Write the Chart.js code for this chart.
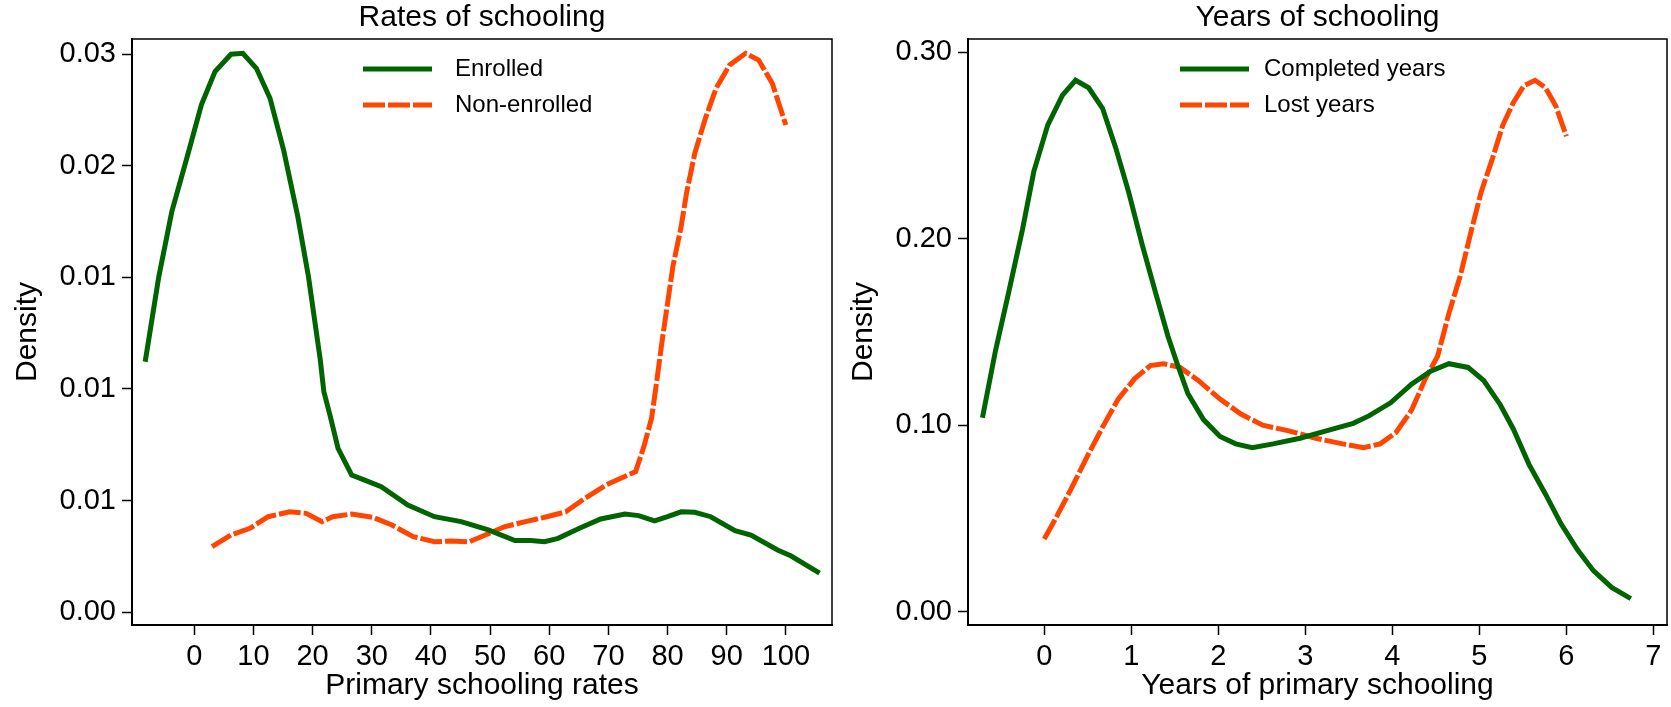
<!DOCTYPE html>
<html>
<head>
<meta charset="utf-8">
<title>Rates and years of schooling</title>
<script src="https://cdn.jsdelivr.net/npm/chart.js@4.4.0/dist/chart.umd.min.js"></script>
<style>
  body { margin: 0; background: #fff; }
  #wrap { position: relative; width: 1671px; height: 707px; }
  canvas { position: absolute; top: 0; }
  #ratesChart { left: 0; }
  #yearsChart { left: 836px; }
</style>
</head>
<body>
<div id="wrap">
  <canvas id="ratesChart" width="836" height="707"></canvas>
  <canvas id="yearsChart" width="835" height="707"></canvas>
</div>
<script>
// --- left panel: rates of schooling ---
const rateTicks = [0, 10, 20, 30, 40, 50, 60, 70, 80, 90, 100];
const rateDensityTicks = [0, 0.005, 0.01, 0.015, 0.02, 0.025];
const rateDensityLabels = ['0.00', '0.01', '0.01', '0.01', '0.02', '0.03'];

const enrolledX = [-8.3, -6.0, -3.8, -1.2, 1.2, 3.5, 6.2, 8.2, 10.5, 12.8, 15.1, 17.5, 19.3, 21.3, 21.9, 23.0, 24.3, 26.6, 28.8, 31.6,
  36.1, 40.6, 45.1, 49.7, 54.2, 56.9, 59.2, 61.5, 65.1, 68.7, 72.8, 75.1, 77.8, 80.0, 82.3, 84.6, 87.3, 91.4, 94.1, 98.6, 100.9, 105.7];
const enrolledY = [0.01122, 0.01503, 0.01794, 0.02040, 0.02272, 0.02421, 0.02499, 0.02503, 0.02436, 0.02302, 0.02070, 0.01771, 0.01503,
  0.01130, 0.00988, 0.00876, 0.00734, 0.00615, 0.00592, 0.00562, 0.00480, 0.00428, 0.00406, 0.00369, 0.00321, 0.00321, 0.00316,
  0.00331, 0.00376, 0.00418, 0.00440, 0.00433, 0.00409, 0.00428, 0.00450, 0.00448, 0.00428, 0.00365, 0.00346, 0.00279, 0.00252, 0.00175];

const nonEnrolledX = [3.0, 6.2, 9.4, 12.5, 16.1, 18.9, 21.6, 23.4, 26.6, 30.2, 33.4, 37.0, 40.6, 43.3, 46.5, 49.2, 52.4, 56.0, 59.6,
  62.8, 66.0, 69.6, 74.6, 76.0, 77.3, 78.2, 79.1, 80.9, 82.3, 83.2, 84.6, 86.4, 88.2, 90.5, 93.2, 95.4, 97.7, 100.0];
const nonEnrolledY = [0.00294, 0.00346, 0.00376, 0.00428, 0.00450, 0.00443, 0.00406, 0.00428, 0.00440, 0.00425, 0.00391, 0.00339,
  0.00316, 0.00319, 0.00316, 0.00346, 0.00383, 0.00406, 0.00428, 0.00450, 0.00510, 0.00570, 0.00630, 0.00742, 0.00869, 0.01040,
  0.01219, 0.01548, 0.01727, 0.01876, 0.02055, 0.02212, 0.02346, 0.02451, 0.02503, 0.02473, 0.02369, 0.02182];

// --- right panel: years of schooling ---
const yearTicks = [0, 1, 2, 3, 4, 5, 6, 7];
const yearDensityTicks = [0, 0.1, 0.2, 0.3];
const yearDensityLabels = ['0.00', '0.10', '0.20', '0.30'];

const completedX = [-0.71, -0.56, -0.41, -0.25, -0.12, 0.04, 0.21, 0.36, 0.51, 0.67, 0.82, 0.97, 1.13, 1.28, 1.42, 1.52, 1.65, 1.83,
  2.02, 2.20, 2.39, 2.63, 2.94, 3.24, 3.55, 3.73, 3.98, 4.22, 4.44, 4.65, 4.87, 5.05, 5.24, 5.39, 5.57, 5.76, 5.94, 6.13, 6.31, 6.52, 6.74];
const completedY = [0.104, 0.140, 0.171, 0.205, 0.236, 0.261, 0.277, 0.285, 0.281, 0.270, 0.249, 0.225, 0.196, 0.171, 0.148, 0.134,
  0.117, 0.103, 0.094, 0.090, 0.088, 0.090, 0.093, 0.097, 0.101, 0.105, 0.112, 0.122, 0.129, 0.133, 0.131, 0.124, 0.111, 0.098,
  0.079, 0.063, 0.047, 0.033, 0.022, 0.013, 0.007];

const lostX = [0.0, 0.12, 0.30, 0.48, 0.67, 0.85, 1.04, 1.22, 1.37, 1.56, 1.77, 2.02, 2.26, 2.51, 2.81, 3.12, 3.43, 3.67, 3.86, 4.04,
  4.22, 4.38, 4.52, 4.65, 4.78, 4.90, 5.02, 5.15, 5.27, 5.39, 5.51, 5.64, 5.76, 5.88, 6.00];
const lostY = [0.039, 0.049, 0.065, 0.082, 0.099, 0.114, 0.125, 0.132, 0.133, 0.131, 0.124, 0.114, 0.106, 0.100, 0.097, 0.093, 0.090,
  0.088, 0.090, 0.096, 0.108, 0.125, 0.137, 0.160, 0.180, 0.203, 0.225, 0.243, 0.261, 0.273, 0.282, 0.285, 0.281, 0.271, 0.255];

const GREEN = '#006400';
const ORANGE = '#ff4500';

Chart.defaults.font.family = '"Liberation Sans", Arial, sans-serif';
Chart.defaults.color = '#000';

function points(xs, ys) {
    return xs.map(function(x, i) { return { x: x, y: ys[i] }; });
}

// thin frame on top and right of the plot region
const plotFrame = {
    id: 'plotFrame',
    afterDraw: function(chart) {
        const a = chart.chartArea, ctx = chart.ctx;
        ctx.save();
        ctx.strokeStyle = '#000';
        ctx.lineWidth = 1.5;
        ctx.beginPath();
        ctx.moveTo(a.left, a.top);
        ctx.lineTo(a.right, a.top);
        ctx.lineTo(a.right, a.bottom);
        ctx.stroke();
        ctx.restore();
    }
};

// legend drawn inside the plot, one row per series
const lineKey = {
    id: 'lineKey',
    afterDraw: function(chart, args, opts) {
        const ctx = chart.ctx;
        ctx.save();
        chart.data.datasets.forEach(function(ds, i) {
            const y = opts.rows[i];
            ctx.beginPath();
            ctx.strokeStyle = ds.borderColor;
            ctx.lineWidth = 5;
            ctx.setLineDash(ds.borderDash || []);
            ctx.moveTo(opts.x0, y);
            ctx.lineTo(opts.x1, y);
            ctx.stroke();
            ctx.setLineDash([]);
            ctx.fillStyle = '#000';
            ctx.font = '24px "Liberation Sans", Arial, sans-serif';
            ctx.textBaseline = 'middle';
            ctx.fillText(ds.label, opts.textX, y);
        });
        ctx.restore();
    }
};

function makeChart(id, cfg) {
    return new Chart(document.getElementById(id), {
        type: 'line',
        data: {
            datasets: [{
                label: cfg.labels[0],
                data: points(cfg.series[0][0], cfg.series[0][1]),
                borderColor: GREEN,
                borderWidth: 5
            }, {
                label: cfg.labels[1],
                data: points(cfg.series[1][0], cfg.series[1][1]),
                borderColor: ORANGE,
                borderWidth: 5,
                borderDash: [22, 3]
            }]
        },
        options: {
            responsive: false,
            animation: false,
            elements: { point: { radius: 0 }, line: { tension: 0, fill: false } },
            layout: { padding: { left: 0, right: 4, top: 0, bottom: 0 } },
            plugins: {
                legend: { display: false },
                tooltip: { enabled: false },
                title: {
                    display: true,
                    text: cfg.title,
                    fullSize: false,
                    font: { size: 30, weight: 'normal' },
                    padding: { top: 0, bottom: 3 }
                },
                lineKey: cfg.key
            },
            scales: {
                x: {
                    type: 'linear',
                    min: cfg.xRange[0],
                    max: cfg.xRange[1],
                    afterBuildTicks: function(scale) {
                        scale.ticks = cfg.xTicks.map(function(v) { return { value: v }; });
                    },
                    afterFit: function(scale) { scale.height = 82; },
                    ticks: { autoSkip: false, maxRotation: 0, padding: 5, font: { size: 29 } },
                    grid: { drawOnChartArea: false, drawTicks: true, tickLength: 10, tickWidth: 1.5, tickColor: '#000' },
                    border: { display: true, color: '#000', width: 2 },
                    title: { display: true, text: cfg.xTitle, font: { size: 30 }, padding: { top: 0, bottom: 3 } }
                },
                y: {
                    min: cfg.yRange[0],
                    max: cfg.yRange[1],
                    afterBuildTicks: function(scale) {
                        scale.ticks = cfg.yTicks.map(function(v) { return { value: v }; });
                    },
                    afterFit: function(scale) { scale.width = 132; },
                    ticks: {
                        autoSkip: false,
                        padding: 6,
                        font: { size: 29 },
                        callback: function(value, index) { return cfg.yLabels[index]; }
                    },
                    grid: { drawOnChartArea: false, drawTicks: true, tickLength: 10, tickWidth: 1.5, tickColor: '#000' },
                    border: { display: true, color: '#000', width: 2 },
                    title: { display: true, text: 'Density', font: { size: 30 }, padding: { top: 10, bottom: 0 } }
                }
            }
        },
        plugins: [plotFrame, lineKey]
    });
}

makeChart('ratesChart', {
    title: 'Rates of schooling',
    xTitle: 'Primary schooling rates',
    labels: ['Enrolled', 'Non-enrolled'],
    series: [[enrolledX, enrolledY], [nonEnrolledX, nonEnrolledY]],
    xTicks: rateTicks,
    xRange: [-10.53, 107.8],
    yTicks: rateDensityTicks,
    yLabels: rateDensityLabels,
    yRange: [-0.000569, 0.025672],
    key: { x0: 363, x1: 432, textX: 455, rows: [69, 105] }
});

makeChart('yearsChart', {
    title: 'Years of schooling',
    xTitle: 'Years of primary schooling',
    labels: ['Completed years', 'Lost years'],
    series: [[completedX, completedY], [lostX, lostY]],
    xTicks: yearTicks,
    xRange: [-0.876, 7.156],
    yTicks: yearDensityTicks,
    yLabels: yearDensityLabels,
    yRange: [-0.00715, 0.30715],
    key: { x0: 344, x1: 413, textX: 428, rows: [69, 105] }
});
</script>
</body>
</html>
